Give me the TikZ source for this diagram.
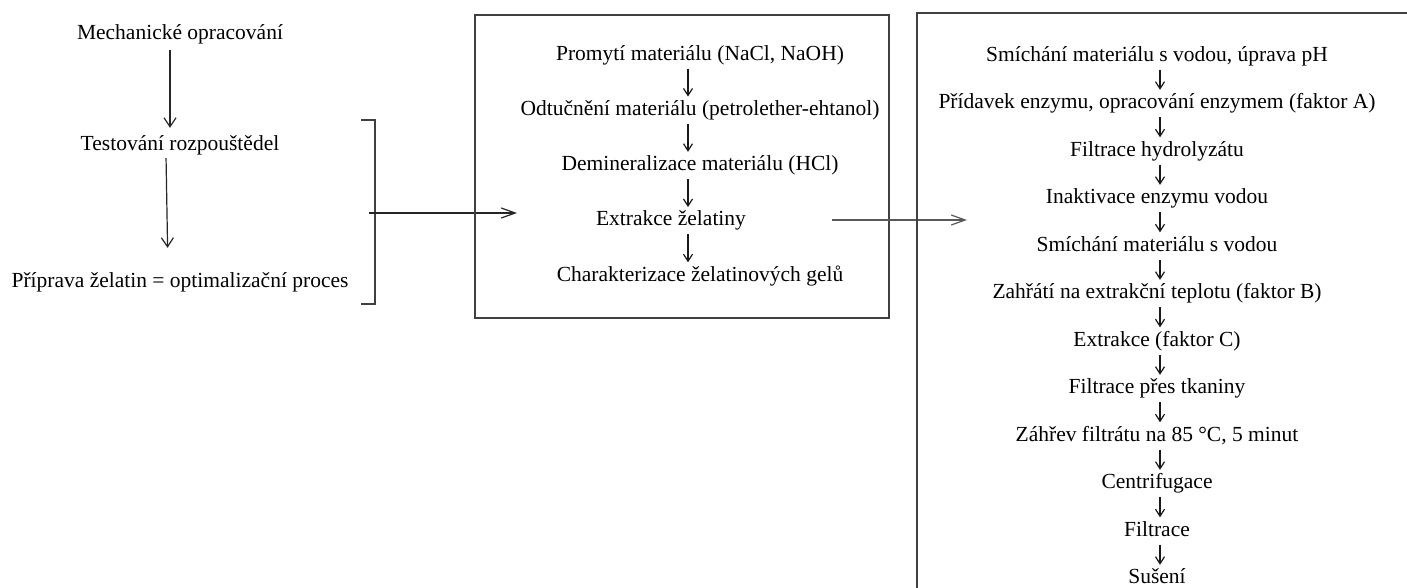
\documentclass[tikz,border=0pt]{standalone}
\usepackage{fontspec}
\setmainfont{Liberation Serif}
\usetikzlibrary{arrows.meta}
\begin{document}
\begin{tikzpicture}[x=1pt,y=-1pt,
  lbl/.style={inner sep=0pt, anchor=base, text height=15pt, text depth=5pt, font=\fontsize{21.5}{25}\selectfont, text=black},
  bigarr/.style={draw=black!85, line width=1.2pt, -{Straight Barb[length=9pt,width=12pt]}},
  smallarr/.style={draw=black!90, line width=1.2pt, -{Straight Barb[length=7pt,width=9pt]}, shorten <=3.5pt, shorten >=3.5pt},
  harr/.style={draw=black!85, line width=1.2pt, -{Straight Barb[length=14pt,width=10pt]}},
  frame/.style={draw=black!75, line width=1.3pt}]
\clip (0,0) rectangle (1407,587);
\fill[white] (0,0) rectangle (1407,587);

% left column
\node[lbl] (m) at (180,39) {Mechanické opracování};
\node[lbl] (t) at (180,150) {Testování rozpouštědel};
\node[lbl] (pp) at (180,287) {Příprava želatin = optimalizační proces};
\coordinate (c0) at (170,0);
\coordinate (c1) at (166,0);
\coordinate (c2) at (168,0);
\draw[bigarr, shorten <=6pt, shorten >=7pt] (m.south -| c0) -- (t.north -| c0);
\draw[bigarr, shorten <=3pt, shorten >=24pt] (t.south -| c1) -- (pp.north -| c2);

% bracket
\draw[frame] (361,120) -- (375,120) -- (375,304) -- (361,304);
\coordinate (brk) at (369,213);
\coordinate (in1) at (517,213);
\draw[harr] (brk) -- (in1);

% box 1
\node[frame, minimum width=414pt, minimum height=303pt, inner sep=0pt] (box1) at (682,166.5) {};
\node[lbl] (b1) at (700,60) {Promytí materiálu (NaCl, NaOH)};
\node[lbl] (b2) at (700,115.25) {Odtučnění materiálu (petrolether-ehtanol)};
\node[lbl] (b3) at (700,170.5) {Demineralizace materiálu (HCl)};
\node[lbl] (b4) at (671,225.75) {Extrakce želatiny};
\node[lbl] (b5) at (700,281) {Charakterizace želatinových gelů};
\coordinate (ax1) at (688,0);
\foreach \a/\b in {b1/b2,b2/b3,b3/b4,b4/b5}
  \draw[smallarr] (\a.south -| ax1) -- (\b.north -| ax1);

\coordinate (out1) at (832,220);
\coordinate (in2) at (967,220);
\draw[harr, draw=black!65] (out1) -- (in2);

% box 2 (partly outside)
\draw[frame] (917,600) -- (917,13) -- (1420,13);
\foreach \txt [count=\i] in {{Smíchání materiálu s vodou, úprava pH},
  {Přídavek enzymu, opracování enzymem (faktor A)},
  {Filtrace hydrolyzátu},
  {Inaktivace enzymu vodou},
  {Smíchání materiálu s vodou},
  {Zahřátí na extrakční teplotu (faktor B)},
  {Extrakce (faktor C)},
  {Filtrace přes tkaniny},
  {Záhřev filtrátu na 85 °C, 5 minut},
  {Centrifugace},
  {Filtrace},
  {Sušení}}
  \node[lbl] (s\i) at (1157,{61+47.5*(\i-1)}) {\txt};
\coordinate (ax2) at (1160,0);
\foreach \i [evaluate=\i as \j using int(\i+1)] in {1,...,11}
  \draw[smallarr] (s\i.south -| ax2) -- (s\j.north -| ax2);
\end{tikzpicture}
\end{document}
